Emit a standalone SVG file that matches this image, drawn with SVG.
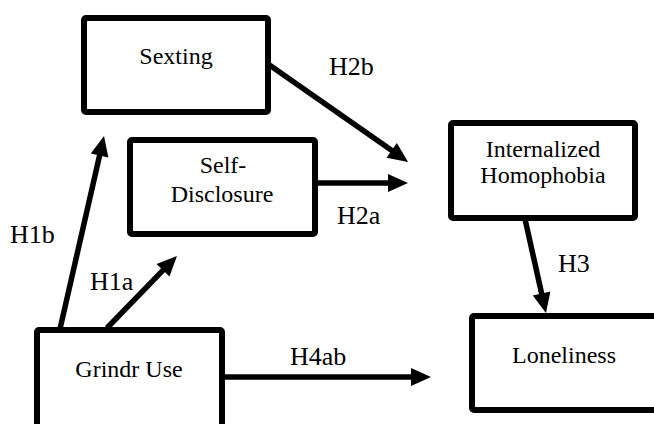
<svg xmlns="http://www.w3.org/2000/svg" width="654" height="424" viewBox="0 0 654 424">
<style>
.box{fill:#fff;stroke:#000;stroke-width:6;stroke-linejoin:round}
.ar{stroke:#000;stroke-width:5.5;fill:none;marker-end:url(#ah)}
</style>
<defs>
<marker id="ah" markerUnits="userSpaceOnUse" markerWidth="20" markerHeight="18" refX="5" refY="9" orient="auto" overflow="visible">
<path d="M0,0 L20,9 L0,18 Z" fill="#000"/>
</marker>
</defs>
<rect width="654" height="424" fill="#fff"/>
<g id="connectors">
<line class="ar" x1="268" y1="64" x2="395.8" y2="153.3"/>
<line class="ar" x1="316" y1="183" x2="393" y2="183"/>
<line class="ar" x1="60" y1="329" x2="100.7" y2="150.6"/>
<line class="ar" x1="107" y1="328" x2="166.5" y2="266.7"/>
<line class="ar" x1="525" y1="219" x2="542.7" y2="298.4"/>
<line class="ar" x1="223" y1="377" x2="416" y2="377"/>
<g font-family="Liberation Serif, serif" font-size="26" fill="#000">
<text x="329" y="75">H2b</text>
<text x="337" y="224">H2a</text>
<text x="10" y="243">H1b</text>
<text x="90" y="290">H1a</text>
<text x="558" y="272">H3</text>
<text x="290" y="365">H4ab</text>
</g>
</g>
<g font-family="Liberation Serif, serif" font-size="24" fill="#000" text-anchor="middle">
<g id="sexting">
<rect class="box" x="84" y="18" width="184" height="94" rx="2"/>
<text x="176" y="64">Sexting</text>
</g>
<g id="self-disclosure">
<rect class="box" x="130" y="140" width="185" height="94" rx="2"/>
<text x="223" y="173">Self-</text>
<text x="222" y="202">Disclosure</text>
</g>
<g id="internalized-homophobia">
<rect class="box" x="451" y="123" width="184" height="95" rx="2"/>
<text x="543" y="157">Internalized</text>
<text x="543" y="183">Homophobia</text>
</g>
<g id="loneliness">
<rect class="box" x="472" y="316" width="200" height="94" rx="2"/>
<text x="564" y="363">Loneliness</text>
</g>
<g id="grindr-use">
<rect class="box" x="37" y="330" width="185" height="110" rx="2"/>
<text x="129" y="377">Grindr Use</text>
</g>
</g>
</svg>
